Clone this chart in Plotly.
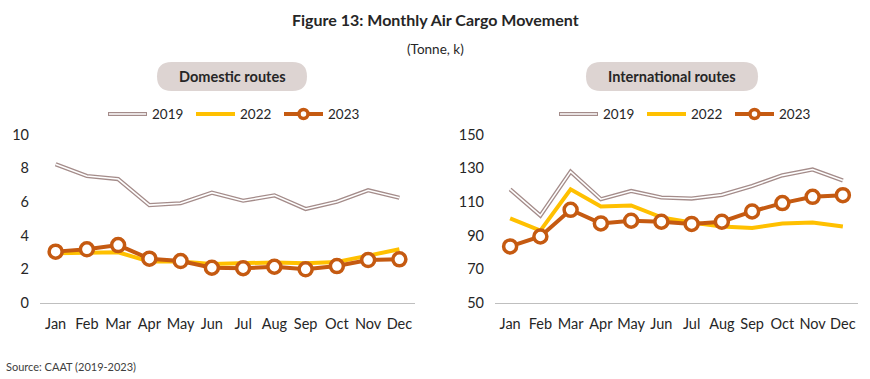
import plotly.graph_objects as go

W, H = 870, 379

months = ["Jan", "Feb", "Mar", "Apr", "May", "Jun", "Jul", "Aug", "Sep", "Oct", "Nov", "Dec"]

dom_2019 = [8.24, 7.54, 7.36, 5.81, 5.92, 6.55, 6.07, 6.39, 5.58, 6.01, 6.69, 6.25]
dom_2022 = [2.94, 2.96, 3.00, 2.45, 2.45, 2.30, 2.32, 2.40, 2.35, 2.42, 2.80, 3.18]
dom_2023 = [3.04, 3.18, 3.43, 2.62, 2.48, 2.08, 2.05, 2.14, 1.99, 2.18, 2.54, 2.58]

int_2019 = [117.5, 101.8, 128.0, 111.6, 116.5, 112.6, 112.0, 114.2, 119.5, 125.8, 129.3, 122.8]
int_2022 = [100.2, 92.9, 117.5, 107.3, 107.9, 100.8, 97.8, 95.3, 94.5, 97.2, 97.8, 95.3]
int_2023 = [83.5, 89.4, 105.3, 97.2, 98.8, 98.2, 96.9, 98.2, 104.3, 109.3, 113.0, 114.0]

dom_ticks = [0, 2, 4, 6, 8, 10]
int_ticks = [50, 70, 90, 110, 130, 150]

title_text = "Figure 13: Monthly Air Cargo Movement"
unit_text = "(Tonne, k)"
source_text = "Source: CAAT (2019-2023)"
panel_titles = ["Domestic routes", "International routes"]
series_names = ["2019", "2022", "2023"]

C2019_EDGE = "#a48c8a"
C2022 = "#ffc000"
C2023 = "#c55a11"
PILL = "#ddd4d2"
TXT = "#262626"
FONT = "Lato"


def px(x):
    return x / W


def py(y):
    return 1 - y / H


fig = go.Figure()


def add_panel(xa, ya, v19, v22, v23):
    fig.add_trace(go.Scatter(x=months, y=v19, mode="lines", xaxis=xa, yaxis=ya,
                             line=dict(color=C2019_EDGE, width=4.2), showlegend=False,
                             hoverinfo="skip"))
    fig.add_trace(go.Scatter(x=months, y=v19, mode="lines", xaxis=xa, yaxis=ya,
                             line=dict(color="white", width=1.6), showlegend=False,
                             name="2019"))
    fig.add_trace(go.Scatter(x=months, y=v22, mode="lines", xaxis=xa, yaxis=ya,
                             line=dict(color=C2022, width=4), showlegend=False,
                             name="2022"))
    fig.add_trace(go.Scatter(x=months, y=v23, mode="lines+markers", xaxis=xa, yaxis=ya,
                             line=dict(color=C2023, width=4),
                             marker=dict(size=13, color="white",
                                         line=dict(color=C2023, width=3.5)),
                             showlegend=False, name="2023"))


add_panel("x", "y", dom_2019, dom_2022, dom_2023)
add_panel("x2", "y2", int_2019, int_2022, int_2023)

ydom = [py(302.7), py(134.7)]
axis_common = dict(showgrid=False, zeroline=False, ticks="", automargin=False,
                   tickfont=dict(family=FONT, size=14.5, color=TXT))
xcommon = dict(showline=True, linecolor="#bfbfbf", linewidth=1.3, tickangle=0,
               range=[-0.5, len(months) - 0.5], ticklabelstandoff=8)

fig.update_layout(
    width=W, height=H,
    margin=dict(l=0, r=0, t=0, b=0),
    paper_bgcolor="white", plot_bgcolor="white",
    xaxis=dict(domain=[px(40), px(415)], **xcommon, **axis_common),
    yaxis=dict(domain=ydom, range=[0, 10], tickvals=dom_ticks, showline=False,
               ticklabelstandoff=10, **axis_common),
    xaxis2=dict(domain=[px(495), px(858)], anchor="y2", **xcommon, **axis_common),
    yaxis2=dict(domain=ydom, range=[50, 150], tickvals=int_ticks, anchor="x2", showline=False,
                ticklabelstandoff=10, **axis_common),
)

shapes = []
annotations = []


def rounded_rect(x0, y0, x1, y1, r):
    pts = [
        f"M {px(x0 + r)} {py(y0)}",
        f"L {px(x1 - r)} {py(y0)}",
        f"Q {px(x1)} {py(y0)} {px(x1)} {py(y0 + r)}",
        f"L {px(x1)} {py(y1 - r)}",
        f"Q {px(x1)} {py(y1)} {px(x1 - r)} {py(y1)}",
        f"L {px(x0 + r)} {py(y1)}",
        f"Q {px(x0)} {py(y1)} {px(x0)} {py(y1 - r)}",
        f"L {px(x0)} {py(y0 + r)}",
        f"Q {px(x0)} {py(y0)} {px(x0 + r)} {py(y0)}",
        "Z",
    ]
    return " ".join(pts)


for (x0, x1), label in zip([(157, 307), (586, 758)], panel_titles):
    shapes.append(dict(type="path", xref="paper", yref="paper",
                       path=rounded_rect(x0, 62, x1, 91, 14.5),
                       fillcolor=PILL, line=dict(width=0), layer="below"))
    annotations.append(dict(x=px((x0 + x1) / 2), y=py(76.5), xref="paper", yref="paper",
                            text=f"<b>{label}</b>", showarrow=False,
                            font=dict(family=FONT, size=14.5, color=TXT),
                            xanchor="center", yanchor="middle"))

LY = 114
for base in [108, 559]:
    x0, x1 = base, base + 39
    shapes.append(dict(type="line", xref="paper", yref="paper", x0=px(x0), x1=px(x1),
                       y0=py(LY), y1=py(LY), line=dict(color=C2019_EDGE, width=4.2)))
    shapes.append(dict(type="line", xref="paper", yref="paper", x0=px(x0 + 1), x1=px(x1 - 1),
                       y0=py(LY), y1=py(LY), line=dict(color="white", width=1.6)))
    annotations.append(dict(x=px(x1 + 3), y=py(LY), xref="paper", yref="paper",
                            text=series_names[0], showarrow=False, xanchor="left",
                            yanchor="middle", font=dict(family=FONT, size=13.5, color=TXT)))
    x0, x1 = base + 88, base + 127
    shapes.append(dict(type="line", xref="paper", yref="paper", x0=px(x0), x1=px(x1),
                       y0=py(LY), y1=py(LY), line=dict(color=C2022, width=4)))
    annotations.append(dict(x=px(x1 + 3), y=py(LY), xref="paper", yref="paper",
                            text=series_names[1], showarrow=False, xanchor="left",
                            yanchor="middle", font=dict(family=FONT, size=13.5, color=TXT)))
    x0, x1 = base + 176, base + 215
    shapes.append(dict(type="line", xref="paper", yref="paper", x0=px(x0), x1=px(x1),
                       y0=py(LY), y1=py(LY), line=dict(color=C2023, width=4)))
    cx, r = (x0 + x1) / 2, 4.5
    shapes.append(dict(type="circle", xref="paper", yref="paper",
                       x0=px(cx - r), x1=px(cx + r), y0=py(LY + r), y1=py(LY - r),
                       fillcolor="white", line=dict(color=C2023, width=3.5)))
    annotations.append(dict(x=px(x1 + 3), y=py(LY), xref="paper", yref="paper",
                            text=series_names[2], showarrow=False, xanchor="left",
                            yanchor="middle", font=dict(family=FONT, size=13.5, color=TXT)))

annotations.append(dict(x=0.5, y=py(20), xref="paper", yref="paper",
                        text=f"<b>{title_text}</b>", showarrow=False,
                        xanchor="center", yanchor="middle",
                        font=dict(family=FONT, size=16, color=TXT)))
annotations.append(dict(x=0.5, y=py(49), xref="paper", yref="paper",
                        text=unit_text, showarrow=False,
                        xanchor="center", yanchor="middle",
                        font=dict(family=FONT, size=13.5, color=TXT)))
annotations.append(dict(x=px(4), y=py(366), xref="paper", yref="paper",
                        text=source_text, showarrow=False,
                        xanchor="left", yanchor="middle",
                        font=dict(family=FONT, size=11, color="#404040")))

fig.update_layout(shapes=shapes, annotations=annotations)

fig.write_html("out.html", config={"displayModeBar": False},
               post_script="document.body.style.margin='0px';")
